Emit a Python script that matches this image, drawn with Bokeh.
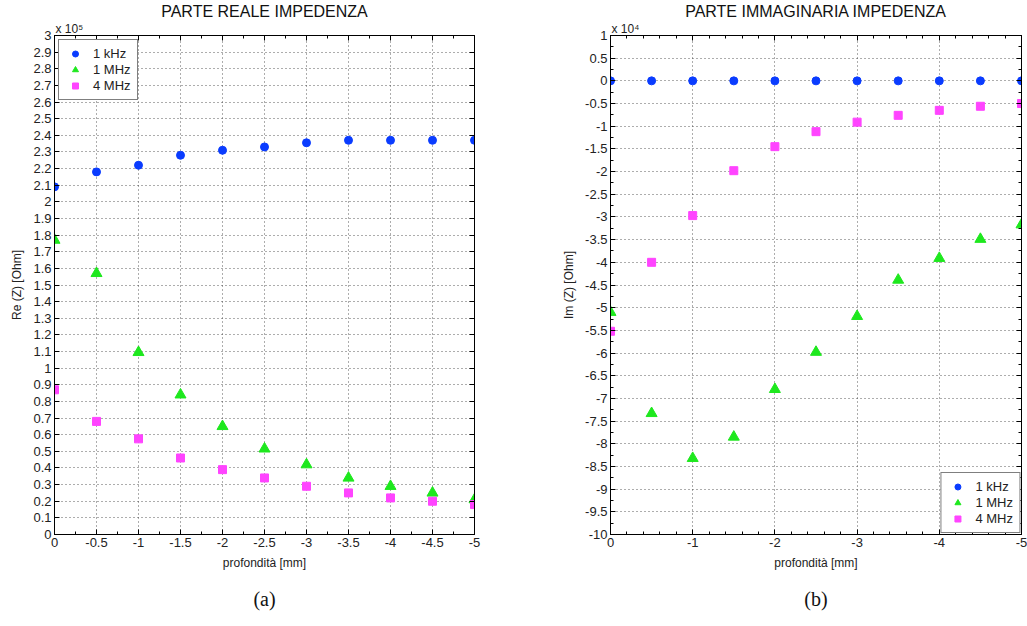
from bokeh.plotting import figure
from bokeh.layouts import row
from bokeh.models import (Range1d, FixedTicker, CustomJSTickFormatter,
                          Title, LinearAxis)
from bokeh.embed import file_html
from bokeh.resources import INLINE

# ---------------- data ----------------
depth = [0, -0.5, -1, -1.5, -2, -2.5, -3, -3.5, -4, -4.5, -5]
series_labels = ["1 kHz", "1 MHz", "4 MHz"]

re_1khz = [209000, 218000, 222000, 228000, 231000, 233000, 235500, 237000, 237000, 237000, 237000]
re_1mhz = [177000, 157000, 109500, 84000, 65000, 51500, 42000, 34000, 29000, 25000, 21000]
re_4mhz = [87000, 68000, 57500, 46000, 39000, 34000, 29000, 25000, 22000, 20000, 18000]

im_1khz = [0, 0, 0, 0, 0, 0, 0, 0, 0, 0, 0]
im_1mhz = [-51000, -73300, -83200, -78500, -68000, -59800, -51900, -43900, -39100, -34900, -31700]
im_4mhz = [-55200, -40000, -29700, -19800, -14500, -11200, -9100, -7600, -6500, -5600, -5000]

re_xticks = [0, -0.5, -1, -1.5, -2, -2.5, -3, -3.5, -4, -4.5, -5]
re_xminor = [-0.25 * i for i in range(21)]
re_yticks = [10000 * i for i in range(31)]
im_xticks = [0, -1, -2, -3, -4, -5]
im_xminor = [-0.2 * i for i in range(26)]
im_yticks = [10000 - 5000 * i for i in range(23)]
im_yminor = [10000 - 2500 * i for i in range(45)]

BLUE = "#0a3cff"
GREEN = "#1ee81e"
MAGENTA = "#ff44ff"
FONT = "Liberation Sans"


def make_fmt(scale):
    return CustomJSTickFormatter(code="""
        var v = parseFloat((tick / %s).toFixed(3));
        if (Math.abs(v) < 1e-9) { v = 0; }
        return v.toString();
    """ % scale)


XFMT = CustomJSTickFormatter(code="""
    var v = parseFloat(tick.toFixed(3));
    if (Math.abs(v) < 1e-9) { v = 0; }
    return v.toString();
""")


def style_axis(ax, labels=True):
    ax.major_tick_in = 5
    ax.major_tick_out = 0
    ax.minor_tick_in = 3
    ax.minor_tick_out = 0
    ax.axis_line_color = "black"
    ax.major_tick_line_color = "black"
    ax.minor_tick_line_color = "black"
    ax.major_label_text_font = FONT
    ax.axis_label_text_font = FONT
    ax.axis_label_text_font_size = "12px"
    ax.axis_label_text_font_style = "normal"
    ax.axis_label_text_color = "#222222"
    ax.axis_label_standoff = 6
    if labels:
        ax.major_label_text_font_size = "13px"
        ax.major_label_text_color = "#222222"
        ax.major_label_standoff = 3
    else:
        ax.major_label_text_font_size = "0px"
        ax.major_label_text_color = None
        ax.major_label_standoff = 0


def make_panel(title, ylabel, ydata, yrange, xticks, xminor, yticks, yminor,
               yscale, exp_txt, caption, frame_w, border_l, border_r, legend_loc):
    p = figure(frame_width=frame_w, frame_height=499,
               x_range=Range1d(0, -5), y_range=Range1d(*yrange),
               output_backend="svg", toolbar_location=None,
               min_border_left=border_l, min_border_right=border_r,
               min_border_top=35, min_border_bottom=92)

    p.outline_line_color = "black"
    p.background_fill_color = "white"
    p.border_fill_color = "white"

    xt = FixedTicker(ticks=xticks, minor_ticks=xminor)
    yt = FixedTicker(ticks=yticks, minor_ticks=yminor)
    p.xaxis.ticker = xt
    p.yaxis.ticker = yt
    p.xaxis.formatter = XFMT
    p.yaxis.formatter = make_fmt(yscale)
    p.xaxis.axis_label = "profondità [mm]"
    p.yaxis.axis_label = ylabel
    for ax in p.xaxis + p.yaxis:
        style_axis(ax)

    top = LinearAxis(ticker=FixedTicker(ticks=xticks, minor_ticks=xminor))
    right = LinearAxis(ticker=FixedTicker(ticks=yticks, minor_ticks=yminor))
    style_axis(top, labels=False)
    style_axis(right, labels=False)
    p.add_layout(top, "above")
    p.add_layout(right, "right")

    # multiplier (closest to the frame), then main title
    p.add_layout(Title(text="x 10" + exp_txt, align="left", offset=1,
                       text_font=FONT, text_font_size="12px",
                       text_font_style="normal", text_color="#222222",
                       standoff=0), "above")
    p.add_layout(Title(text=title, align="center", text_font=FONT,
                       text_font_size="16px", text_font_style="normal",
                       text_color="#111111", standoff=0), "above")

    for g in (p.xgrid, p.ygrid):
        g.grid_line_color = "#333333"
        g.grid_line_dash = "1 3"
        g.grid_line_alpha = 0.8
    p.xgrid.ticker = xt
    p.ygrid.ticker = yt

    p.scatter(depth, ydata[0], marker="circle", size=8, color=BLUE,
              legend_label=series_labels[0])
    p.scatter(depth, ydata[1], marker="triangle", size=11, color=GREEN,
              legend_label=series_labels[1])
    p.scatter(depth, ydata[2], marker="square", size=8, color=MAGENTA,
              legend_label=series_labels[2])

    lg = p.legend[0]
    lg.location = legend_loc
    lg.border_line_color = "black"
    lg.border_line_width = 1
    lg.background_fill_alpha = 1
    lg.label_text_font = FONT
    lg.label_text_font_size = "13px"
    lg.label_text_color = "#222222"
    lg.glyph_width = 20
    lg.glyph_height = 15
    lg.label_height = 15
    lg.spacing = 1
    lg.padding = 6
    lg.margin = 4 if legend_loc == "top_left" else 1
    lg.label_standoff = 8

    cap = Title(text=caption, align="center", text_font="Liberation Serif",
                text_font_size="20px", text_font_style="normal",
                text_color="#111111", standoff=27)
    p.add_layout(cap, "below")
    return p


p1 = make_panel("PARTE REALE IMPEDENZA", "Re (Z) [Ohm]",
                [re_1khz, re_1mhz, re_4mhz], (0, 300000),
                re_xticks, re_xminor, re_yticks, [], 1e5, "⁵", "(a)",
                420, 54, 85, "top_left")
p2 = make_panel("PARTE IMMAGINARIA IMPEDENZA", "Im (Z) [Ohm]",
                [im_1khz, im_1mhz, im_4mhz], (-100000, 10000),
                im_xticks, im_xminor, im_yticks, im_yminor, 1e4, "⁴", "(b)",
                411, 48, 8, "bottom_right")

layout = row(p1, p2)
open("out.html", "w").write(file_html(layout, INLINE))
